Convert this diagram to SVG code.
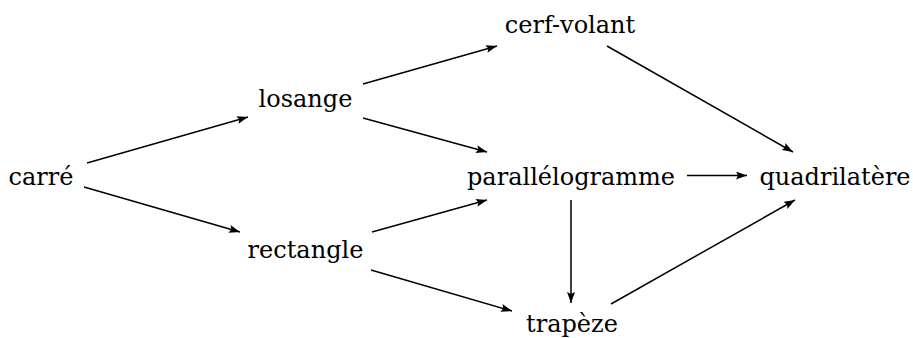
<svg xmlns="http://www.w3.org/2000/svg" width="913" height="338" viewBox="0 0 913 338">
<style>
text{font-family:"DejaVu Serif","Liberation Serif",serif;font-size:24px;fill:#000;text-anchor:middle}
.e line{stroke:#000;stroke-width:1.5;fill:none;marker-end:url(#a)}
</style>
<defs>
<marker id="a" viewBox="0 0 11 8" refX="11" refY="4" markerWidth="11" markerHeight="8" markerUnits="userSpaceOnUse" orient="auto">
<path d="M0,0 L11,4 L0,8 L2,4 Z" fill="#000"/>
</marker>
</defs>
<rect width="913" height="338" fill="#fff"/>
<g class="e">
<line x1="87" y1="163" x2="248" y2="117"/>
<line x1="84" y1="187" x2="240" y2="232"/>
<line x1="363" y1="84" x2="497" y2="46"/>
<line x1="363" y1="118" x2="487" y2="152"/>
<line x1="372" y1="232" x2="487" y2="200"/>
<line x1="371" y1="270" x2="512" y2="311"/>
<line x1="607" y1="46" x2="793" y2="152"/>
<line x1="687" y1="175.5" x2="747" y2="175.5"/>
<line x1="571" y1="200" x2="571" y2="303"/>
<line x1="611" y1="304" x2="795" y2="200"/>
</g>
<g id="carre"><text x="41" y="185">carré</text></g>
<g id="losange"><text x="305.5" y="107">losange</text></g>
<g id="rectangle"><text x="305.5" y="258">rectangle</text></g>
<g id="cerf-volant"><text x="570" y="33">cerf-volant</text></g>
<g id="parallelogramme"><text x="571" y="185">parallélogramme</text></g>
<g id="trapeze"><text x="572" y="332">trapèze</text></g>
<g id="quadrilatere"><text x="835" y="185">quadrilatère</text></g>
</svg>
